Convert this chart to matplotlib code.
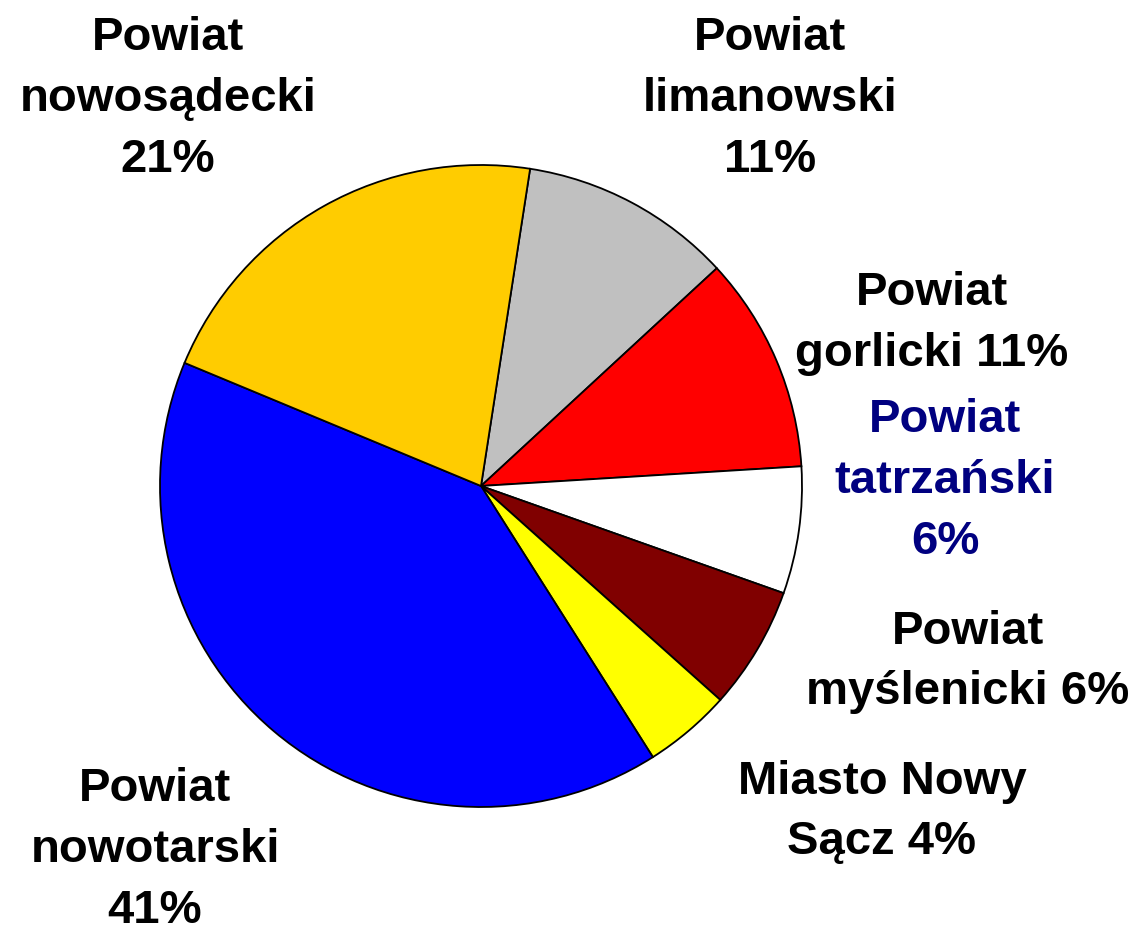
import numpy as np
import matplotlib
matplotlib.use("Agg")
from matplotlib import pyplot as plt

# slices, clockwise from the top
names = ["Powiat limanowski", "Powiat gorlicki", "Powiat tatrzański",
         "Powiat myślenicki", "Miasto Nowy Sącz", "Powiat nowotarski",
         "Powiat nowosądecki"]
shares = [10.7, 10.9, 6.4, 6.2, 4.4, 40.3, 21.2]
colors = ["#C0C0C0", "#FF0000", "#FFFFFF", "#800000", "#FFFF00", "#0000FF", "#FFCC00"]

# label text as shown on the chart
label_texts = ["Powiat\nlimanowski\n11%", "Powiat\ngorlicki 11%", "Powiat\ntatrzański\n6%",
               "Powiat\nmyślenicki 6%", "Miasto Nowy\nSącz 4%", "Powiat\nnowotarski\n41%",
               "Powiat\nnowosądecki\n21%"]
label_colors = ["black", "black", "#000080", "black", "black", "black", "black"]
# label centres in pixels (x, y from top)
label_pos = [(770, 99), (932, 323), (945, 481), (968, 662), (882, 812), (155, 850), (168, 99)]

W, H = 1137, 932
fig = plt.figure(figsize=(W / 100, H / 100), dpi=100)

cx, cy, r = 481, 486, 321
ax = fig.add_axes([(cx - r) / W, (H - cy - r) / H, 2 * r / W, 2 * r / H])
ax.pie(shares, colors=colors, startangle=81.2, counterclock=False,
       wedgeprops=dict(edgecolor="black", linewidth=1.3))
ax.set_xlim(-1, 1)
ax.set_ylim(-1, 1)
ax.set_aspect("equal")
ax.axis("off")

for txt, col, (x, y) in zip(label_texts, label_colors, label_pos):
    fig.text(x / W, 1 - y / H, txt, ha="center", va="center", color=col,
             fontsize=34, fontweight="bold", family="Liberation Sans",
             linespacing=1.5, multialignment="center")

plt.savefig("out.png", dpi=100)
